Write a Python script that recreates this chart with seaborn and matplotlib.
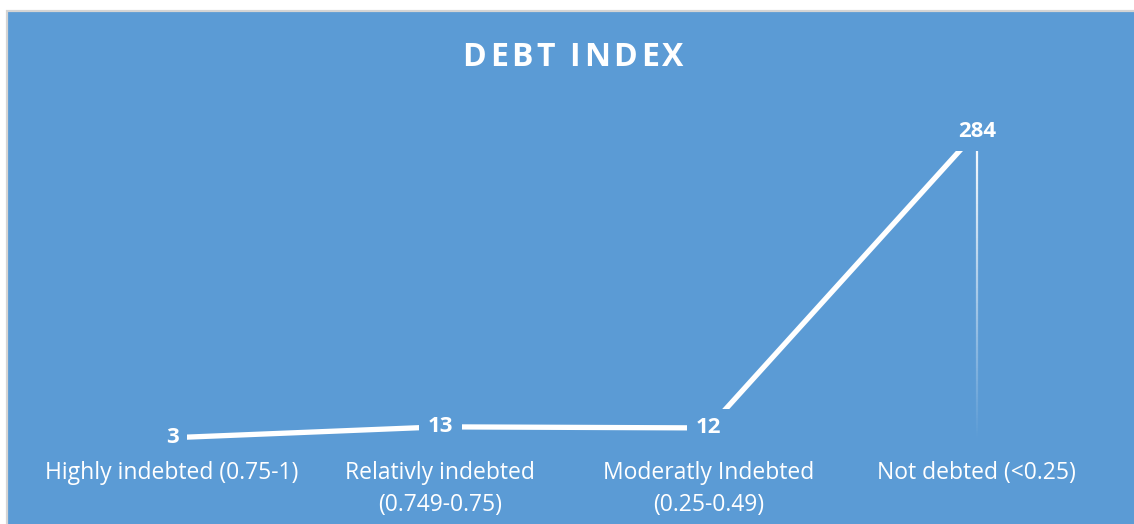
import matplotlib
matplotlib.use("Agg")
import matplotlib.pyplot as plt
import seaborn as sns
import pandas as pd
import numpy as np
from matplotlib.patches import Rectangle
from matplotlib.collections import LineCollection

# Debt index categories and number of respondents in each
categories = [
    "Highly indebted (0.75-1)",
    "Relativly indebted (0.749-0.75)",
    "Moderatly Indebted (0.25-0.49)",
    "Not debted (<0.25)",
]
tick_labels = [
    "Highly indebted (0.75-1)",
    "Relativly indebted\n(0.749-0.75)",
    "Moderatly Indebted\n(0.25-0.49)",
    "Not debted (<0.25)",
]
counts = [3, 13, 12, 284]
title = "DEBT INDEX"

BLUE = "#5B9BD5"
W, H, DPI = 1134, 524, 100

sns.set_theme(style="white")
plt.rcParams["font.family"] = ["Open Sans", "DejaVu Sans"]

fig = plt.figure(figsize=(W / DPI, H / DPI), dpi=DPI, facecolor="white")
renderer = fig.canvas.get_renderer()

# blue chart area with a thin grey frame on the top and left
bg = Rectangle((7 / W, -0.02), 1.1, (H - 11) / H + 0.02, transform=fig.transFigure,
               facecolor=BLUE, edgecolor="#D4D4D4", lw=1.6, zorder=-10)
fig.patches.append(bg)

ax = fig.add_axes([38 / W, 83 / H, 1073 / W, (441 - 114.3) / H])
ax.set_facecolor("none")

df = pd.DataFrame({"category": categories, "count": counts})
sns.lineplot(data=df, x="category", y="count", sort=False, color="white",
             linewidth=3.8, ax=ax, zorder=2)

ax.set_xlim(-0.5, 3.5)
ax.set_ylim(0, 300)

# drop lines fading from each point down to zero
for i, v in enumerate(counts):
    ys = np.linspace(v, 0, 120)
    segs = [[(i, ys[k]), (i, ys[k + 1])] for k in range(len(ys) - 1)]
    alphas = np.linspace(1.0, 0.0, len(segs))
    cols = [(1, 1, 1, a) for a in alphas]
    ax.add_collection(LineCollection(segs, colors=cols, linewidths=1.6, zorder=1))

# value labels sitting on the points, boxed in the background colour
for i, v in enumerate(counts):
    ax.text(i, v, str(v), ha="center", va="center", color="white",
            fontsize=16, fontweight="bold", zorder=5,
            bbox=dict(boxstyle="square,pad=0.4", facecolor=BLUE, edgecolor="none"))

ax.set_xticks(range(len(categories)))
ax.set_xticklabels(tick_labels, color="white", fontsize=16.5, linespacing=1.45)
ax.tick_params(axis="x", length=0, pad=14.5)
ax.set_yticks([])
ax.set_xlabel("")
ax.set_ylabel("")
for s in ax.spines.values():
    s.set_visible(False)


def tracked_text(s, cx_px, cy_px, tracking_px, **kw):
    """Draw a centred string with extra spacing between its letters."""
    def width(sub):
        if not sub:
            return 0.0
        t = fig.text(0, 0, sub, **kw)
        w = t.get_window_extent(renderer).width
        t.remove()
        return w

    total = width(s) + tracking_px * (len(s) - 1)
    x0 = cx_px - total / 2
    for k, ch in enumerate(s):
        if ch == " ":
            continue
        x = x0 + width(s[:k]) + tracking_px * k
        fig.text(x / W, 1 - cy_px / H, ch, ha="left", va="center", **kw)


tracked_text(title, 573, 57, 3.6, color="white", fontsize=23, fontweight="bold")

fig.savefig("out.png", dpi=DPI, facecolor="white")
